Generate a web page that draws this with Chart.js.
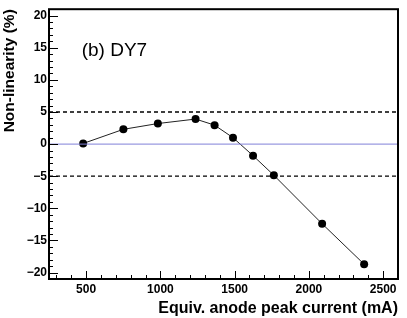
<!DOCTYPE html>
<html>
<head>
<meta charset="utf-8">
<script src="https://cdn.jsdelivr.net/npm/chart.js@4"></script>
<style>
  html, body { margin: 0; padding: 0; background: #fff; }
  #wrap { width: 407px; height: 318px; }
</style>
</head>
<body>
<div id="wrap"><canvas id="myChart" width="407" height="318"></canvas></div>
<script>
'use strict';

// data
let current = [480, 751, 983, 1237, 1365, 1489, 1624, 1764, 2089, 2372];
let nonLin = [0.1, 2.3, 3.2, 3.9, 2.95, 1.0, -1.8, -4.85, -12.4, -18.7];
let xTicks = [500, 1000, 1500, 2000, 2500];
let yTicks = [-20, -15, -10, -5, 0, 5, 10, 15, 20];
let limitLines = [5, -5];
let xRange = [250, 2600];
let yRange = [-21, 21];

let font = '"Liberation Sans", Arial, Helvetica, sans-serif';

let points = [];
for (let i = 0; i < current.length; i++) {
  points.push({ x: current[i], y: nonLin[i] });
}

function hLine(y) {
  return [{ x: xRange[0], y: y }, { x: xRange[1], y: y }];
}

// frame + ROOT style ticks inside the frame + label
let rootFrame = {
  id: 'rootFrame',
  afterDatasetsDraw(chart) {
    let ctx = chart.ctx;
    let a = chart.chartArea;
    let xs = chart.scales.x;
    let ys = chart.scales.y;
    ctx.save();
    ctx.strokeStyle = '#000';
    ctx.lineWidth = 1;
    // minor + major ticks on x
    for (let v = 300; v <= 2600; v += 100) {
      let px = Math.round(xs.getPixelForValue(v)) + 0.5;
      let len = (v % 500 === 0) ? 8 : 4;
      ctx.beginPath();
      ctx.moveTo(px, a.bottom);
      ctx.lineTo(px, a.bottom - len);
      ctx.stroke();
    }
    for (let v = -20; v <= 20; v += 1) {
      let py = Math.round(ys.getPixelForValue(v)) + 0.5;
      let len = (v % 5 === 0) ? 9 : 4;
      ctx.beginPath();
      ctx.moveTo(a.left, py);
      ctx.lineTo(a.left + len, py);
      ctx.stroke();
    }
    ctx.lineWidth = 2;
    ctx.strokeRect(a.left, a.top, a.right - a.left, a.bottom - a.top);

    ctx.fillStyle = '#000';
    ctx.font = '19px ' + font;
    ctx.textBaseline = 'middle';
    ctx.textAlign = 'left';
    ctx.fillText('(b) DY7', xs.getPixelForValue(470), ys.getPixelForValue(14.6));
    ctx.restore();
  }
};

let ctx = document.getElementById('myChart').getContext('2d');
let myChart = new Chart(ctx, {
  type: 'scatter',
  data: {
    datasets: [{
      label: 'zero',
      data: hLine(0),
      showLine: true,
      borderColor: '#8080d8',
      borderWidth: 1,
      pointRadius: 0
    }, {
      label: 'plus',
      data: hLine(limitLines[0]),
      showLine: true,
      borderColor: '#000',
      borderWidth: 1.3,
      borderDash: [4, 3],
      pointRadius: 0
    }, {
      label: 'minus',
      data: hLine(limitLines[1]),
      showLine: true,
      borderColor: '#000',
      borderWidth: 1.3,
      borderDash: [4, 3],
      pointRadius: 0
    }, {
      label: 'DY7',
      data: points,
      showLine: true,
      borderColor: '#222',
      borderWidth: 1,
      backgroundColor: '#000',
      pointBackgroundColor: '#000',
      pointBorderWidth: 0,
      pointRadius: 4
    }]
  },
  options: {
    responsive: false,
    animation: false,
    devicePixelRatio: 1,
    layout: { padding: { left: 0, top: 6, right: 9, bottom: 0 } },
    plugins: {
      legend: { display: false },
      tooltip: { enabled: false }
    },
    scales: {
      x: {
        type: 'linear',
        min: xRange[0],
        max: xRange[1],
        afterBuildTicks: (s) => { s.ticks = xTicks.map(v => ({ value: v })); },
        afterFit: (s) => { s.height = 39; },
        grid: { display: false, drawTicks: false },
        border: { display: false },
        ticks: {
          color: '#000',
          padding: 3,
          maxRotation: 0,
          font: { family: font, size: 12, weight: 'bold' },
          callback: (v) => '' + v
        },
        title: {
          display: true,
          text: 'Equiv. anode peak current (mA)',
          align: 'end',
          color: '#000',
          padding: { top: 0, bottom: 0 },
          font: { family: font, size: 16, weight: 'bold' }
        }
      },
      y: {
        type: 'linear',
        min: yRange[0],
        max: yRange[1],
        afterBuildTicks: (s) => { s.ticks = yTicks.map(v => ({ value: v })); },
        afterFit: (s) => { s.width = 49; },
        grid: { display: false, drawTicks: false },
        border: { display: false },
        ticks: {
          color: '#000',
          padding: 2,
          font: { family: font, size: 12, weight: 'bold' },
          callback: (v) => (v < 0 ? '\u2212' + Math.abs(v) : '' + v)
        },
        title: {
          display: true,
          text: 'Non-linearity (%)',
          align: 'end',
          color: '#000',
          padding: { top: 0, bottom: 2 },
          font: { family: font, size: 15.5, weight: 'bold' }
        }
      }
    }
  },
  plugins: [rootFrame]
});
</script>
</body>
</html>
